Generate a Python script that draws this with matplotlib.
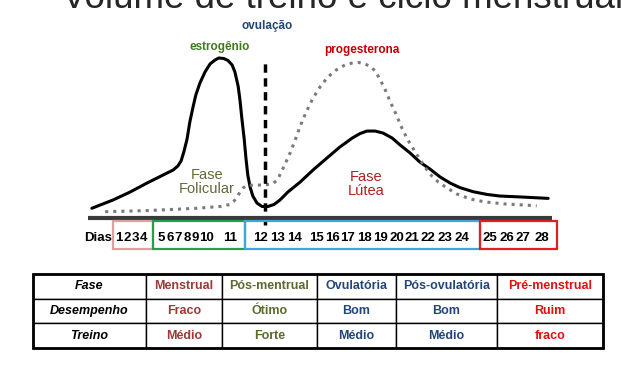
import matplotlib
matplotlib.use("Agg")
import matplotlib.pyplot as plt
from matplotlib.patches import Rectangle

plt.rcParams['font.family'] = ['Liberation Sans', 'DejaVu Sans']

# curvas hormonais (posição no ciclo 0-100, nível 0-100)
estro_x = [0.4, 5.0, 8.7, 12.3, 15.9, 18.1, 19.1, 19.8, 20.4, 21.1, 21.7, 22.4, 23.0, 23.9,
           25.0, 26.1, 27.2, 28.0, 29.1, 30.0, 30.9, 31.5, 32.2, 32.6, 33.0, 33.5, 33.9,
           34.3, 34.8, 35.4, 36.3, 37.4, 38.7, 40.0, 41.3, 43.0, 45.7, 48.5, 51.5, 54.3,
           57.0, 58.7, 60.2, 62.0, 63.7, 65.7, 67.4, 69.6, 71.7, 73.9, 76.1, 78.3, 80.4,
           83.3, 86.3, 89.1, 93.5, 99.6]
estro_y = [5.4, 10.0, 14.4, 19.3, 23.9, 26.7, 28.9, 31.7, 36.7, 43.9, 53.3, 61.7, 68.3, 75.0,
           81.1, 85.6, 87.8, 88.9, 88.6, 87.5, 85.0, 81.1, 73.3, 65.6, 55.6, 44.4, 33.3,
           23.9, 17.2, 12.2, 8.3, 6.4, 6.4, 7.5, 10.0, 14.4, 20.0, 26.7, 33.3, 39.4,
           44.4, 46.9, 48.3, 48.3, 47.2, 44.4, 40.6, 36.1, 31.1, 27.2, 22.8, 19.4, 16.9,
           14.6, 13.1, 12.2, 11.7, 10.9]
prog_x = [3.3, 12.3, 23.2, 28.3, 30.4, 31.3, 32.0, 32.6, 33.3, 34.1, 35.9, 38.0, 39.8, 40.7,
          41.5, 42.4, 43.5, 44.6, 45.7, 47.0, 48.5, 50.0, 51.7, 53.5, 55.4, 57.0, 58.3,
          59.6, 60.9, 62.0, 63.0, 64.1, 65.2, 66.5, 67.8, 69.1, 70.7, 72.2, 73.9, 75.7,
          77.6, 79.8, 82.6, 85.9, 90.2, 97.1]
prog_y = [3.5, 4.1, 5.4, 6.4, 7.5, 9.4, 11.7, 14.4, 16.7, 18.1, 18.3, 18.3, 19.2, 21.1,
          25.0, 30.0, 36.1, 43.3, 51.1, 58.9, 66.7, 72.8, 78.3, 82.2, 85.0, 86.1, 86.4,
          85.8, 84.2, 81.7, 77.2, 71.7, 65.0, 57.8, 50.0, 43.3, 36.7, 30.6, 24.4, 20.0,
          16.7, 13.3, 10.6, 8.9, 7.8, 6.8]
ovulacao_x = 38.0
ovulacao_top = 86.7

dias = list(range(1, 29))

# tabela
linhas = ['Fase', 'Desempenho', 'Treino']
fases = ['Menstrual', 'Pós-mentrual', 'Ovulatória', 'Pós-ovulatória', 'Pré-menstrual']
desempenho = ['Fraco', 'Ótimo', 'Bom', 'Bom', 'Ruim']
treino = ['Médio', 'Forte', 'Médio', 'Médio', 'fraco']
cores_fase = ['#9b3a3a', '#5b6b2f', '#23467a', '#23467a', '#e01010']

# layout (pixels)
W, H = 640, 367
dia_px = [119, 127, 135, 144, 161, 170, 178, 187, 195, 207, 230, 260, 278, 295, 316, 332,
          348, 364, 380, 397, 412, 428, 445, 462, 490, 507, 523, 542]
caixas = [(113, 153, '#dba0a0'), (153, 245, '#22a050'), (245, 480, '#3aa8dc'), (480, 557, '#e02020')]
col_edges = [33, 146, 222, 317, 396, 497, 603]

fig = plt.figure(figsize=(6.4, 3.67), dpi=100)

# eixo das curvas
ax = fig.add_axes([90 / W, (H - 218) / H, 460 / W, 180 / H])
ax.set_xlim(0, 100)
ax.set_ylim(0, 100)
ax.axis('off')
ax.plot(estro_x, estro_y, color='black', lw=2.2, solid_capstyle='round',
        solid_joinstyle='round')
ax.plot(prog_x, prog_y, color='#7a7a7a', lw=2.2, linestyle=':')
ax.vlines(ovulacao_x, -4, ovulacao_top, color='black', lw=2.5,
          linestyle=(0, (2.4, 1.6)), clip_on=False)
ax.hlines(0, -0.5, 100.5, color='#3a3a3a', lw=3, clip_on=False)

# camada em pixels para textos e caixas
ov = fig.add_axes([0, 0, 1, 1])
ov.set_xlim(0, W)
ov.set_ylim(H, 0)
ov.axis('off')
ov.patch.set_alpha(0)

ov.text(343, 8, 'Volume de treino e ciclo menstrual', ha='center', va='baseline',
        fontsize=26.5, color='#262626')

ov.text(267, 26, 'ovulação', ha='center', va='center', fontsize=8.5,
        fontweight='bold', color='#23467a')
ov.text(220, 47, 'estrogênio', ha='center', va='center', fontsize=8.5,
        fontweight='bold', color='#3f7a1f')
ov.text(362, 50, 'progesterona', ha='center', va='center', fontsize=8.5,
        fontweight='bold', color='#c00000')
ov.text(207, 182, 'Fase\nFolicular', ha='center', va='center', fontsize=10.5,
        color='#66663a', linespacing=1.05)
ov.text(366, 184, 'Fase\nLútea', ha='center', va='center', fontsize=10.5,
        color='#b02020', linespacing=1.05)

ov.text(98, 238, 'Dias', ha='center', va='center', fontsize=9.5, fontweight='bold')
for d, x in zip(dias, dia_px):
    ov.text(x, 238, str(d), ha='center', va='center', fontsize=9.5, fontweight='bold')
for x0, x1, c in caixas:
    ov.add_patch(Rectangle((x0, 221), x1 - x0, 28, fill=False, edgecolor=c, lw=1.6))

# tabela
cell_text = [fases, desempenho, treino]
tot = col_edges[-1] - col_edges[0]
widths = [(b - a) / tot for a, b in zip(col_edges[:-1], col_edges[1:])]
tab = ov.table(cellText=[[r] + row for r, row in zip(linhas, cell_text)],
               cellLoc='center', colWidths=widths,
               bbox=[col_edges[0] / W, (H - 348) / H, tot / W, 74 / H])
tab.auto_set_font_size(False)
for (r, c), cell in tab.get_celld().items():
    cell.set_linewidth(1)
    cell.set_edgecolor('black')
    t = cell.get_text()
    t.set_fontsize(9)
    t.set_fontweight('bold')
    if c == 0:
        t.set_fontstyle('italic')
        t.set_color('black')
    else:
        t.set_color(cores_fase[c - 1])
ov.add_patch(Rectangle((col_edges[0], 274), tot, 74, fill=False, edgecolor='black', lw=2, zorder=5))

fig.savefig('out.png', dpi=100)
